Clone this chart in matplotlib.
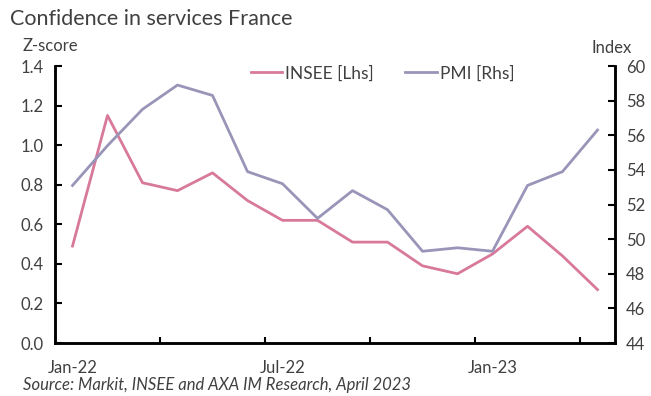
# Confidence in services France: INSEE (lhs) vs PMI (rhs)
import numpy as np
import matplotlib.pyplot as plt

# Monthly data, Jan-22 to Apr-23
months = ['Jan-22', 'Feb-22', 'Mar-22', 'Apr-22', 'May-22', 'Jun-22', 'Jul-22', 'Aug-22',
          'Sep-22', 'Oct-22', 'Nov-22', 'Dec-22', 'Jan-23', 'Feb-23', 'Mar-23', 'Apr-23']
insee = [0.49, 1.15, 0.81, 0.77, 0.86, 0.72, 0.62, 0.62,
         0.51, 0.51, 0.39, 0.35, 0.45, 0.59, 0.44, 0.27]
pmi = [53.1, 55.4, 57.5, 58.9, 58.3, 53.9, 53.2, 51.2,
       52.8, 51.7, 49.3, 49.5, 49.3, 53.1, 53.9, 56.3]
label_months = ['Jan-22', 'Jul-22', 'Jan-23']

plt.rcParams['font.family'] = ['Lato', 'DejaVu Sans']
txt = '#404040'

x = np.arange(len(months))

fig = plt.figure(figsize=(6.51, 3.96), dpi=100)
ax = fig.add_axes([0.0845, 0.1338, 0.8602, 0.6995])
ax2 = ax.twinx()

l1, = ax.plot(x, insee, color='#D8799B', lw=2.0, label='INSEE [Lhs]')
l2, = ax2.plot(x, pmi, color='#9895B8', lw=2.0, label='PMI [Rhs]')

ax.set_xlim(-0.5, len(months) - 0.5)
ax.set_ylim(0, 1.4)
ax.set_yticks(np.arange(0, 1.41, 0.2))
ax.set_yticklabels([f'{v:.1f}' for v in np.arange(0, 1.41, 0.2)])
ax2.set_ylim(44, 60)
ax2.set_yticks(np.arange(44, 61, 2))

# minor ticks between categories every 3 months, labels every 6 months
ax.set_xticks([months.index(m) for m in label_months])
ax.set_xticklabels(label_months)
ax.set_xticks(np.arange(2.5, len(months), 3), minor=True)
ax.tick_params(axis='x', which='major', length=0, pad=12, labelsize=12, colors=txt)
ax.tick_params(axis='x', which='minor', direction='in', length=4, width=1.5, color='black')

ax.tick_params(axis='y', direction='in', length=5, width=1.5, labelsize=12, labelcolor=txt, pad=8)
ax2.tick_params(axis='y', direction='in', length=5, width=1.5, labelsize=12, labelcolor=txt, pad=8)

for a in (ax, ax2):
    a.spines['top'].set_visible(False)
    for s in ('left', 'right', 'bottom'):
        a.spines[s].set_linewidth(1.8)
        a.spines[s].set_color('black')

fig.text(0.015, 0.953, 'Confidence in services France', fontsize=15.5, color=txt, va='center')
fig.text(0.034, 0.885, 'Z-score', fontsize=12, color=txt, va='center')
fig.text(0.908, 0.878, 'Index', fontsize=12, color=txt, va='center')
fig.text(0.035, 0.028, 'Source: Markit, INSEE and AXA IM Research, April 2023',
         fontsize=12, style='italic', color=txt, va='center')

fig.legend(handles=[l1, l2], loc='center', bbox_to_anchor=(0.588, 0.815), ncol=2,
           frameon=False, fontsize=12.5, handlelength=1.8, columnspacing=1.8,
           handletextpad=0.2, labelcolor=txt)

fig.savefig('out.png', dpi=100)
